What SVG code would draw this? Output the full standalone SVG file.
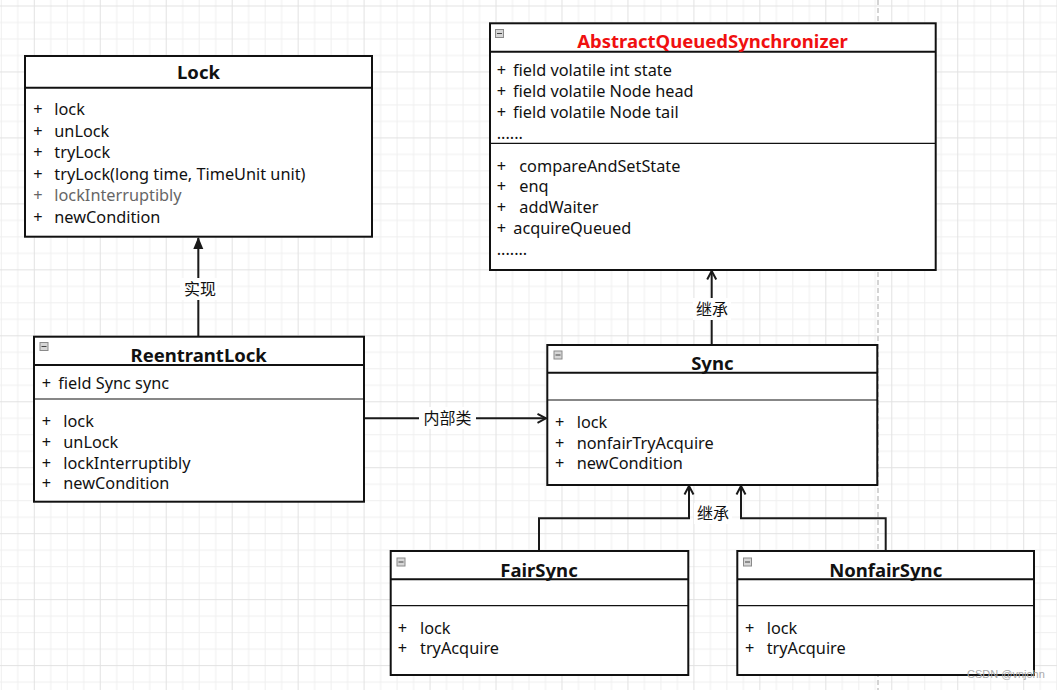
<svg xmlns="http://www.w3.org/2000/svg" width="1057" height="690" viewBox="0 0 1057 690">
<style>
.box{fill:#fff;stroke:#111;stroke-width:2}
.hd{stroke:#111;stroke-width:2;fill:none}
.sep{stroke:#111;stroke-width:1.2;fill:none}
.t{font-family:"Noto Sans","Liberation Sans","Noto Sans CJK SC",sans-serif;font-size:18.5px;font-weight:bold;text-anchor:middle;fill:#111}
.m{font-family:"Noto Sans","Liberation Sans","Noto Sans CJK SC",sans-serif;font-size:16.3px;fill:#111}
.g{fill:#666}
.lbl{font-family:"Noto Sans CJK SC",sans-serif;font-size:16px;text-anchor:middle;fill:#111}
.edge{stroke:#1a1a1a;stroke-width:2;fill:none}
.ico{fill:#d6d6d6;stroke:#8a8a8a;stroke-width:1}
</style>
<defs>
<pattern id="grid" width="65.96" height="65.96" patternUnits="userSpaceOnUse" x="33.8" y="5.5">
<path d="M16.99 0V65.96M33.48 0V65.96M49.97 0V65.96M0 16.99H65.96M0 33.48H65.96M0 49.97H65.96" stroke="#efefef" stroke-width="1"/>
<path d="M0.5 0V65.96M0 0.5H65.96" stroke="#e2e2e2" stroke-width="1"/>
</pattern>
<marker id="block" viewBox="0 0 12 12" markerWidth="12" markerHeight="12" refX="11" refY="6" orient="auto" markerUnits="userSpaceOnUse">
<path d="M0 1L12 6L0 11z" fill="#1a1a1a"/>
</marker>
<marker id="open" viewBox="0 0 12 12" markerWidth="12" markerHeight="12" refX="10.5" refY="6" orient="auto" markerUnits="userSpaceOnUse">
<path d="M2 1.5L10.5 6L2 10.5" fill="none" stroke="#1a1a1a" stroke-width="2"/>
</marker>
<g id="icon"><rect class="ico" x="0.5" y="0.5" width="8" height="8"/><path d="M2 4.5H7" stroke="#444" stroke-width="1"/></g>
</defs>
<rect width="1057" height="690" fill="#fff"/>
<rect width="1057" height="690" fill="url(#grid)"/>
<path d="M878 0V690" stroke="#d4d4d4" stroke-width="2" stroke-dasharray="5 3"/>

<g id="connectors">
<path class="edge" d="M198.3 336.7V238" marker-end="url(#block)"/>
<path class="edge" d="M364 418.3H546" marker-end="url(#open)"/>
<path class="edge" d="M711.7 345V271" marker-end="url(#open)"/>
<path class="edge" d="M539 551V518.3H689V486" marker-end="url(#open)"/>
<path class="edge" d="M885.7 551V518.3H741V486" marker-end="url(#open)"/>
<rect x="180" y="278" width="37" height="22" fill="#fff"/>
<text class="lbl" x="200" y="295">实现</text>
<rect x="419" y="407" width="57" height="22" fill="#fff"/>
<text class="lbl" x="447.5" y="424">内部类</text>
<rect x="693" y="298" width="38" height="22" fill="#fff"/>
<text class="lbl" x="712" y="315">继承</text>
<rect x="694" y="503" width="38" height="21" fill="#fff"/>
<text class="lbl" x="713" y="519">继承</text>
</g>

<g id="lock">
<rect class="box" x="25" y="56" width="347" height="180.7"/>
<path class="hd" d="M25 87.7H372"/>
<text class="t" x="198.5" y="78.5">Lock</text>
<text class="m"><tspan x="33.3" y="115">+</tspan><tspan x="54.3" y="115">lock</tspan></text>
<text class="m"><tspan x="33.3" y="136.5">+</tspan><tspan x="54.3" y="136.5">unLock</tspan></text>
<text class="m"><tspan x="33.3" y="158">+</tspan><tspan x="54.3" y="158">tryLock</tspan></text>
<text class="m"><tspan x="33.3" y="179.5">+</tspan><tspan x="54.3" y="179.5">tryLock(long time, TimeUnit unit)</tspan></text>
<text class="m g"><tspan x="33.3" y="201">+</tspan><tspan x="54.3" y="201">lockInterruptibly</tspan></text>
<text class="m"><tspan x="33.3" y="222.5">+</tspan><tspan x="54.3" y="222.5">newCondition</tspan></text>
</g>

<g id="aqs">
<rect class="box" x="490" y="23.3" width="445.7" height="246.7"/>
<path class="hd" d="M490 51.7H935.7"/>
<path class="sep" d="M490 143.3H935.7"/>
<use href="#icon" x="495" y="29"/>
<text class="t" x="712.5" y="48.3" style="fill:#f01010">AbstractQueuedSynchronizer</text>
<text class="m"><tspan x="496.7" y="76">+</tspan><tspan x="513" y="76">field volatile int state</tspan></text>
<text class="m"><tspan x="496.7" y="97">+</tspan><tspan x="513" y="97">field volatile Node head</tspan></text>
<text class="m"><tspan x="496.7" y="118">+</tspan><tspan x="513" y="118">field volatile Node tail</tspan></text>
<text class="m" x="496.7" y="139">......</text>
<text class="m"><tspan x="496.7" y="171.5">+</tspan><tspan x="519.3" y="171.5">compareAndSetState</tspan></text>
<text class="m"><tspan x="496.7" y="192">+</tspan><tspan x="519.3" y="192">enq</tspan></text>
<text class="m"><tspan x="496.7" y="213">+</tspan><tspan x="519.3" y="213">addWaiter</tspan></text>
<text class="m"><tspan x="496.7" y="234">+</tspan><tspan x="513.3" y="234">acquireQueued</tspan></text>
<text class="m" x="496.7" y="255">.......</text>
</g>

<g id="reentrantlock">
<rect class="box" x="34" y="336.7" width="330" height="165"/>
<path class="hd" d="M34 365H364"/>
<path class="sep" d="M34 399H364"/>
<use href="#icon" x="39.5" y="342"/>
<text class="t" x="198.7" y="362">ReentrantLock</text>
<text class="m"><tspan x="41.7" y="389">+</tspan><tspan x="58.3" y="389">field Sync sync</tspan></text>
<text class="m"><tspan x="41.7" y="427">+</tspan><tspan x="63.3" y="427">lock</tspan></text>
<text class="m"><tspan x="41.7" y="447.5">+</tspan><tspan x="63.3" y="447.5">unLock</tspan></text>
<text class="m"><tspan x="41.7" y="468.5">+</tspan><tspan x="63.3" y="468.5">lockInterruptibly</tspan></text>
<text class="m"><tspan x="41.7" y="488.5">+</tspan><tspan x="63.3" y="488.5">newCondition</tspan></text>
</g>

<g id="sync">
<rect class="box" x="547.3" y="345" width="330" height="140"/>
<path class="hd" d="M547.3 372.7H877.3"/>
<path class="sep" d="M547.3 400H877.3"/>
<use href="#icon" x="553.5" y="350.5"/>
<text class="t" x="712.3" y="370">Sync</text>
<text class="m"><tspan x="555" y="427.5">+</tspan><tspan x="576.7" y="427.5">lock</tspan></text>
<text class="m"><tspan x="555" y="448.5">+</tspan><tspan x="576.7" y="448.5">nonfairTryAcquire</tspan></text>
<text class="m"><tspan x="555" y="469">+</tspan><tspan x="576.7" y="469">newCondition</tspan></text>
</g>

<g id="fairsync">
<rect class="box" x="390.7" y="551" width="297.6" height="124"/>
<path class="hd" d="M390.7 579.3H688.3"/>
<path class="sep" d="M390.7 605.7H688.3"/>
<use href="#icon" x="396.5" y="557.5"/>
<text class="t" x="539" y="577">FairSync</text>
<text class="m"><tspan x="397.7" y="634">+</tspan><tspan x="420" y="634">lock</tspan></text>
<text class="m"><tspan x="397.7" y="654">+</tspan><tspan x="420" y="654">tryAcquire</tspan></text>
</g>

<g id="nonfairsync">
<rect class="box" x="737.3" y="551" width="296.7" height="124"/>
<path class="hd" d="M737.3 579.3H1034"/>
<path class="sep" d="M737.3 605.7H1034"/>
<use href="#icon" x="743" y="557.5"/>
<text class="t" x="885.7" y="577">NonfairSync</text>
<text class="m"><tspan x="745" y="634">+</tspan><tspan x="766.7" y="634">lock</tspan></text>
<text class="m"><tspan x="745" y="654">+</tspan><tspan x="766.7" y="654">tryAcquire</tspan></text>
</g>

<text x="967" y="678" font-family="Liberation Sans, sans-serif" font-size="11" fill="#aaa">CSDN @vnjohn</text>
</svg>
